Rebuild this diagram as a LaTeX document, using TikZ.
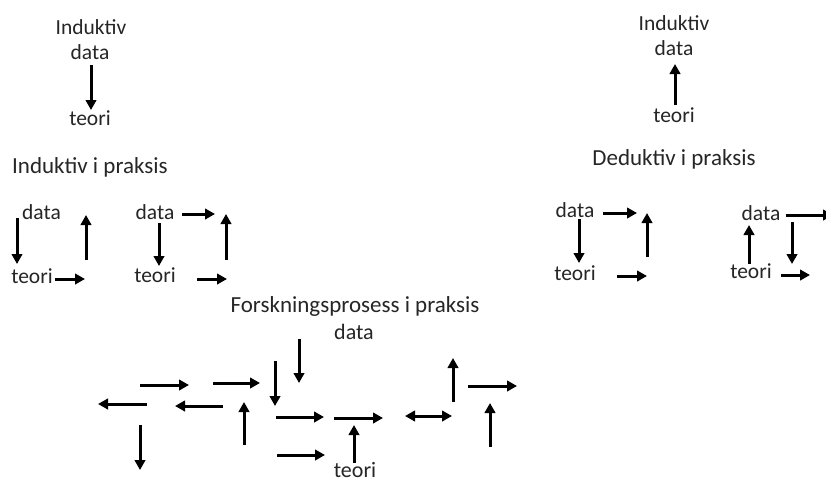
\documentclass[tikz,border=0pt]{standalone}
\usepackage{fontspec}
\setmainfont{Carlito}
\usetikzlibrary{arrows.meta}
\definecolor{txt}{HTML}{262626}
\tikzset{
  lbl/.style={inner sep=0pt, anchor=base, text=txt, font=\fontsize{21.5}{23}\selectfont},
  blbl/.style={inner sep=0pt, anchor=base, text=txt, font=\fontsize{22}{24}\selectfont},
  head/.style={inner sep=0pt, anchor=base, text=txt, font=\fontsize{23}{25}\selectfont},
  arr/.style={line width=3pt, -{Triangle[length=10pt,width=10.5pt]}},
  darr/.style={line width=3pt, {Triangle[length=10pt,width=10.5pt]}-{Triangle[length=10pt,width=10.5pt]}}
}
\begin{document}
\begin{tikzpicture}[x=1pt,y=-1pt]
\useasboundingbox[fill=white] (0,0) rectangle (826,482);

% top left
\node[lbl] (indA) at (91,34) {Induktiv};
\node[lbl] (dA) at (90,59) {data};
\node[lbl] (tA) at (90,125) {teori};
\coordinate (a1s) at (91,65); \coordinate (a1e) at (91,110);
\draw[arr] (a1s) -- (a1e);

% top right
\node[lbl] (indB) at (674,30) {Induktiv};
\node[lbl] (dB) at (674,55) {data};
\node[lbl] (tB) at (674,122) {teori};
\coordinate (b1s) at (675,105); \coordinate (b1e) at (675,64);
\draw[arr] (b1s) -- (b1e);

% headings
\node[head, anchor=base west] (h1) at (12,173) {Induktiv i praksis};
\node[head] (h2) at (674,165) {Deduktiv i praksis};
\node[head] (h3) at (355,312) {Forskningsprosess i praksis};

% group 1
\node[lbl] (g1d) at (41.5,219) {data};
\node[lbl] (g1t) at (32,283) {teori};
\coordinate (g1a) at (17,218); \coordinate (g1b) at (17,264);
\coordinate (g1c) at (86,260); \coordinate (g1e) at (86,215);
\coordinate (g1f) at (55,279); \coordinate (g1g) at (85,279);
\draw[arr] (g1a) -- (g1b);
\draw[arr] (g1c) -- (g1e);
\draw[arr] (g1f) -- (g1g);

% group 2
\node[lbl] (g2d) at (155,219) {data};
\node[lbl] (g2t) at (155,282) {teori};
\coordinate (g2a) at (182,214); \coordinate (g2b) at (215,214);
\coordinate (g2c) at (159,223); \coordinate (g2e) at (159,266);
\coordinate (g2f) at (226,260); \coordinate (g2g) at (226,214);
\coordinate (g2h) at (197,279); \coordinate (g2i) at (227,279);
\draw[arr] (g2a) -- (g2b);
\draw[arr] (g2c) -- (g2e);
\draw[arr] (g2f) -- (g2g);
\draw[arr] (g2h) -- (g2i);

% group 3
\node[lbl] (g3d) at (575,217) {data};
\node[lbl] (g3t) at (575,280) {teori};
\coordinate (g3a) at (603,213); \coordinate (g3b) at (637,213);
\coordinate (g3c) at (579,219); \coordinate (g3e) at (579,263);
\coordinate (g3f) at (647,257); \coordinate (g3g) at (647,213);
\coordinate (g3h) at (617,276); \coordinate (g3i) at (647,276);
\draw[arr] (g3a) -- (g3b);
\draw[arr] (g3c) -- (g3e);
\draw[arr] (g3f) -- (g3g);
\draw[arr] (g3h) -- (g3i);

% group 4
\node[lbl] (g4d) at (761,220) {data};
\node[lbl] (g4t) at (751,278) {teori};
\coordinate (g4a) at (786,215); \coordinate (g4b) at (833,215);
\coordinate (g4c) at (749,264); \coordinate (g4e) at (749,225);
\coordinate (g4f) at (792,222); \coordinate (g4g) at (792,264);
\coordinate (g4h) at (781,275); \coordinate (g4i) at (810,275);
\draw[arr] (g4a) -- (g4b);
\draw[arr] (g4c) -- (g4e);
\draw[arr] (g4f) -- (g4g);
\draw[arr] (g4h) -- (g4i);

% bottom
\node[blbl] (bd) at (354,339) {data};
\node[blbl] (bt) at (355,477) {teori};
\coordinate (r1s) at (140,385); \coordinate (r1e) at (189,385);
\coordinate (r2s) at (213,383); \coordinate (r2e) at (260,383);
\coordinate (l1s) at (147,404); \coordinate (l1e) at (98,404);
\coordinate (l2s) at (223,406); \coordinate (l2e) at (175,406);
\coordinate (u1s) at (244,445); \coordinate (u1e) at (244,402);
\coordinate (d1s) at (140,425); \coordinate (d1e) at (140,470);
\coordinate (d2s) at (299,339); \coordinate (d2e) at (299,383);
\coordinate (d3s) at (275,361); \coordinate (d3e) at (275,406);
\coordinate (r3s) at (276,417); \coordinate (r3e) at (324,417);
\coordinate (r4s) at (334,418); \coordinate (r4e) at (383,418);
\coordinate (r5s) at (277,455); \coordinate (r5e) at (325,455);
\coordinate (u2s) at (354,463); \coordinate (u2e) at (354,425);
\coordinate (dbs) at (405,416); \coordinate (dbe) at (452,416);
\coordinate (u3s) at (453,402); \coordinate (u3e) at (453,358);
\coordinate (r6s) at (468,386); \coordinate (r6e) at (517,386);
\coordinate (u4s) at (490,447); \coordinate (u4e) at (490,403);
\draw[arr] (r1s) -- (r1e);
\draw[arr] (r2s) -- (r2e);
\draw[arr] (l1s) -- (l1e);
\draw[arr] (l2s) -- (l2e);
\draw[arr] (u1s) -- (u1e);
\draw[arr] (d1s) -- (d1e);
\draw[arr] (d2s) -- (d2e);
\draw[arr] (d3s) -- (d3e);
\draw[arr] (r3s) -- (r3e);
\draw[arr] (r4s) -- (r4e);
\draw[arr] (r5s) -- (r5e);
\draw[arr] (u2s) -- (u2e);
\draw[darr] (dbs) -- (dbe);
\draw[arr] (u3s) -- (u3e);
\draw[arr] (r6s) -- (r6e);
\draw[arr] (u4s) -- (u4e);
\end{tikzpicture}
\end{document}
